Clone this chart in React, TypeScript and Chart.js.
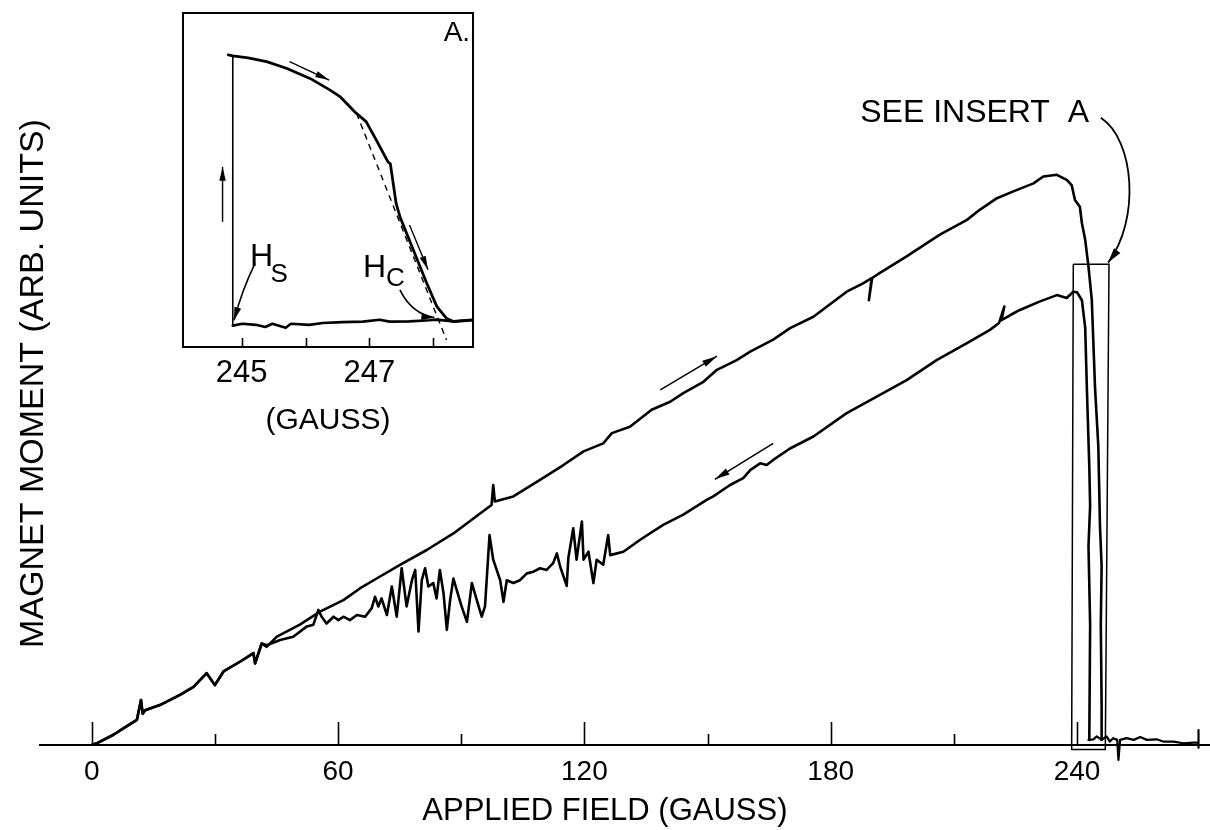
import React, { useEffect, useRef } from 'react';
import { Chart, registerables } from 'chart.js';

Chart.register(...registerables);

// ---------------- main chart data (field in gauss, moment in arbitrary units) ----------------
const fieldUp = [0, 1.2, 5.3, 7.7, 11.0, 12.0, 12.4, 13.0, 16.6, 21.5, 24.8, 28.0, 30.0, 32.1, 36.1, 39.4, 39.8, 41.4, 42.6, 45.1, 50.7, 55.6, 61.3, 65.4, 69.4, 75.1, 81.6, 88.1, 94.6, 97.4, 97.8, 98.2, 102.7, 109.2, 114.9, 119.8, 124.6, 126.7, 131.1, 136.4, 140.9, 144.1, 149.0, 152.3, 157.1, 160.4, 166.0, 170.1, 175.8, 183.9, 188.0, 190.0, 189.3, 190.1, 192.0, 198.5, 206.6, 213.2, 216.4, 220.5, 224.5, 229.4, 231.8, 235.1, 237.5, 238.7, 239.5, 240.7, 241.2, 242.0, 242.8, 243.6, 244.4, 245.2, 245.6, 246.0, 245.8, 246.0, 246.0];
const momentUp = [0, 0.3, 1.8, 2.9, 4.4, 7.9, 5.5, 6.1, 7.0, 8.8, 10.2, 12.6, 10.5, 12.9, 14.6, 16.1, 14.3, 17.8, 17.2, 19.0, 21.1, 23.4, 25.4, 27.5, 29.2, 31.6, 34.2, 37.1, 40.6, 42.1, 45.6, 42.7, 43.6, 46.5, 49.1, 51.5, 52.9, 54.7, 55.8, 58.8, 60.2, 61.7, 63.7, 65.8, 67.5, 69.0, 71.1, 73.1, 75.1, 79.5, 81.0, 81.9, 78.0, 81.9, 82.8, 85.7, 89.5, 92.1, 93.9, 95.9, 97.1, 98.5, 99.7, 100.0, 99.1, 98.2, 95.6, 94.4, 91.5, 88.6, 83.9, 78.1, 62.6, 52.3, 38.4, 31.4, 21.1, 7.2, 0.9];

const fieldDown = [0, 1.2, 5.3, 7.7, 11.0, 12.0, 12.4, 13.0, 16.6, 21.5, 24.8, 28.0, 30.0, 32.1, 36.1, 39.4, 39.8, 41.4, 42.6, 45.9, 49.1, 52.4, 54.0, 55.2, 56.0, 57.2, 58.9, 60.1, 61.3, 62.9, 64.6, 66.6, 68.2, 69.0, 69.8, 70.6, 71.9, 73.1, 74.3, 75.5, 76.7, 78.0, 78.8, 79.6, 80.4, 81.2, 82.0, 83.2, 84.0, 84.8, 85.7, 86.5, 87.3, 88.1, 88.9, 90.1, 91.4, 92.6, 93.8, 95.0, 95.8, 96.9, 97.8, 99.5, 100.3, 101.1, 102.7, 104.3, 106.0, 107.6, 109.2, 110.8, 112.4, 113.3, 114.1, 115.7, 116.1, 117.3, 118.1, 119.4, 119.8, 121.0, 122.2, 123.0, 124.6, 125.8, 126.3, 129.5, 133.6, 139.2, 144.1, 149.8, 151.4, 155.5, 158.7, 160.4, 162.8, 164.4, 166.0, 170.1, 175.8, 183.9, 192.0, 198.5, 205.8, 213.2, 218.8, 221.0, 222.3, 221.6, 224.0, 226.1, 231.0, 235.1, 237.5, 239.1, 240.0, 241.2, 242.0, 242.4, 243.0, 243.2, 242.8, 243.2, 243.0];
const momentDown = [0, 0.3, 1.8, 2.9, 4.4, 7.9, 5.5, 6.1, 7.0, 8.8, 10.2, 12.6, 10.5, 12.9, 14.6, 16.1, 14.3, 17.8, 17.5, 18.4, 19.0, 20.8, 21.1, 23.7, 22.5, 21.3, 22.5, 21.9, 22.5, 21.9, 22.8, 22.5, 24.0, 26.0, 24.3, 25.7, 22.8, 27.8, 22.5, 31.0, 24.3, 28.9, 30.7, 19.9, 28.9, 31.0, 27.8, 28.4, 25.7, 30.7, 26.6, 20.2, 25.4, 29.2, 27.2, 24.3, 21.6, 28.4, 25.4, 22.5, 24.3, 36.8, 32.5, 28.9, 25.1, 28.9, 28.4, 28.9, 30.1, 30.4, 31.0, 30.7, 31.9, 33.6, 31.3, 27.9, 32.8, 38.0, 32.5, 39.2, 32.5, 33.9, 28.4, 32.5, 31.6, 36.8, 33.3, 33.9, 36.0, 38.6, 40.4, 43.0, 43.6, 45.6, 46.8, 48.2, 49.4, 49.1, 50.0, 52.0, 54.1, 58.2, 61.4, 64.0, 67.5, 70.5, 72.8, 74.0, 76.9, 74.5, 75.5, 76.3, 77.8, 78.9, 78.4, 79.5, 79.4, 78.0, 73.2, 62.7, 48.8, 41.9, 34.9, 21.1, 0.9];

const fieldBase = [242.8, 244.0, 244.8, 246.0, 247.2, 248.0, 248.8, 249.8, 250.1, 250.5, 252.1, 253.8, 255.4, 257.0, 259.4, 261.0, 263.5, 265.9, 268.4, 269.6, 269.6, 269.6];
const momentBase = [0.9, 1.0, 1.5, 0.9, 1.5, 0.6, 1.2, 0.9, -2.6, 0.9, 1.2, 0.9, 1.4, 0.9, 1.0, 0.6, 0.6, 0.3, 0.4, 0.4, 2.6, -0.5];

const boxField = [239.1, 247.8, 246.9, 238.7, 239.1];
const boxMoment = [84.3, 84.3, -0.8, -0.8, 84.3];

const fieldTickValues = [0, 30, 60, 90, 120, 150, 180, 210, 240];
const fieldTickLabels = ['0', '', '60', '', '120', '', '180', '', '240'];

// ---------------- insert A data ----------------
const insField = [244.79, 244.86, 245.10, 245.39, 245.70, 246.07, 246.38, 246.54, 246.77, 246.95, 247.11, 247.29, 247.33, 247.42, 247.48, 247.69, 247.90, 248.06, 248.21, 248.32, 248.62];
const insMoment = [100.4, 100.0, 99.3, 97.9, 95.4, 91.6, 87.3, 84.8, 79.1, 75.4, 68.5, 60.4, 59.6, 44.8, 39.8, 27.3, 14.9, 6.1, 1.7, 0.5, 1.1];
const insBaseField = [244.86, 245.01, 245.22, 245.37, 245.48, 245.69, 245.77, 246.06, 246.27, 246.58, 246.90, 247.16, 247.32, 247.63, 247.94, 248.05, 248.32, 248.62];
const insBaseMoment = [-1.0, -0.3, -0.7, -1.5, -0.3, -1.8, -0.3, -0.7, 0.0, 0.3, 0.5, 1.2, 0.5, 0.6, 1.0, 1.25, 0.6, 1.2];
const insJumpField = [244.86, 244.86];
const insJumpMoment = [100.0, -1.0];
const insDashField = [246.80, 248.21];
const insDashMoment = [78.5, -6.4];
const insTickValues = [245, 246, 247, 248];
const insTickLabels = ['245', '', '247', ''];

const SANS = "'Liberation Sans', Arial, sans-serif";

const pts = (xs: number[], ys: number[]) => xs.map((x, i) => ({ x, y: ys[i] }));

function arrowHead(ctx: CanvasRenderingContext2D, fx: number, fy: number, tx: number, ty: number, len = 14, hw = 4) {
  const a = Math.atan2(ty - fy, tx - fx);
  const c = Math.cos(a), s = Math.sin(a);
  ctx.beginPath();
  ctx.moveTo(tx, ty);
  ctx.lineTo(tx - len * c + hw * s, ty - len * s - hw * c);
  ctx.lineTo(tx - len * c - hw * s, ty - len * s + hw * c);
  ctx.closePath();
  ctx.fill();
}

function arrow(ctx: CanvasRenderingContext2D, fx: number, fy: number, tx: number, ty: number, len = 14, hw = 4) {
  ctx.beginPath();
  ctx.moveTo(fx, fy);
  ctx.lineTo(tx, ty);
  ctx.stroke();
  arrowHead(ctx, fx, fy, tx, ty, len, hw);
}

const lineDs = (data: { x: number; y: number }[], width: number, extra: any = {}) => ({
  data,
  showLine: true,
  borderColor: '#000',
  backgroundColor: '#000',
  borderWidth: width,
  pointRadius: 0,
  pointHoverRadius: 0,
  tension: 0,
  borderJoinStyle: 'round',
  borderCapStyle: 'round',
  fill: false,
  ...extra,
});

const mainDecor = {
  id: 'mainDecor',
  afterDatasetsDraw(chart: any) {
    const { ctx, scales } = chart;
    const x = scales.x, y = scales.y;
    const px = (v: number) => x.getPixelForValue(v);
    const py = (v: number) => y.getPixelForValue(v);
    ctx.save();
    ctx.strokeStyle = '#000';
    ctx.fillStyle = '#000';
    ctx.lineCap = 'butt';
    // inward (upward) tick marks
    ctx.lineWidth = 1.6;
    const base = py(0);
    x.ticks.forEach((t: any, i: number) => {
      const len = fieldTickLabels[i] ? 23 : 11;
      const xx = Math.round(px(t.value)) + 0.5;
      ctx.beginPath();
      ctx.moveTo(xx, base);
      ctx.lineTo(xx, base - len);
      ctx.stroke();
    });
    // x-axis title (offset left of the scale centre, as in the original)
    ctx.font = `31px ${SANS}`;
    ctx.textAlign = 'center';
    ctx.textBaseline = 'middle';
    ctx.fillText('APPLIED FIELD (GAUSS)', px(125.0), x.bottom - 19);
    // direction arrows
    ctx.lineWidth = 1.5;
    arrow(ctx, px(138.5), py(62.3), px(152.3), py(68.2), 15, 3.5);
    arrow(ctx, px(166.0), py(52.9), px(151.8), py(46.6), 15, 3.5);
    // label and curved pointer
    ctx.font = `32px ${SANS}`;
    ctx.textAlign = 'left';
    ctx.textBaseline = 'middle';
    ctx.fillText('SEE INSERT  A', px(187.2), py(110.8));
    ctx.lineWidth = 1.8;
    const sx = px(245.8), sy = py(110.0);
    const c1x = px(254.1), c1y = py(106.1);
    const c2x = px(255.4), c2y = py(92.1);
    const ex = px(247.6), ey = py(84.6);
    ctx.beginPath();
    ctx.moveTo(sx, sy);
    ctx.bezierCurveTo(c1x, c1y, c2x, c2y, ex, ey);
    ctx.stroke();
    arrowHead(ctx, c2x, c2y, ex, ey, 15, 4);
    ctx.restore();
  },
};

const insertDecor = {
  id: 'insertDecor',
  afterDatasetsDraw(chart: any) {
    const { ctx, scales, chartArea } = chart;
    const x = scales.x, y = scales.y;
    const px = (v: number) => x.getPixelForValue(v);
    const py = (v: number) => y.getPixelForValue(v);
    ctx.save();
    ctx.strokeStyle = '#000';
    ctx.fillStyle = '#000';
    // frame
    ctx.lineWidth = 2;
    ctx.strokeRect(chartArea.left, chartArea.top, chartArea.right - chartArea.left, chartArea.bottom - chartArea.top);
    // ticks (inward)
    ctx.lineWidth = 1.6;
    x.ticks.forEach((t: any) => {
      const xx = Math.round(px(t.value)) + 0.5;
      ctx.beginPath();
      ctx.moveTo(xx, chartArea.bottom);
      ctx.lineTo(xx, chartArea.bottom - 9);
      ctx.stroke();
    });
    // arrows
    ctx.lineWidth = 1.4;
    arrow(ctx, px(244.70), py(37.9), px(244.70), py(58.5), 14, 3.2);
    arrow(ctx, px(245.75), py(97.9), px(246.37), py(91.0), 14, 3.2);
    arrow(ctx, px(247.63), py(36.7), px(247.92), py(19.9), 14, 3.2);
    // H_S pointer
    ctx.lineWidth = 1.6;
    ctx.beginPath();
    ctx.moveTo(px(245.21), py(22.4));
    ctx.quadraticCurveTo(px(245.00), py(12.0), px(244.88), py(1.0));
    ctx.stroke();
    arrowHead(ctx, px(244.98), py(9.0), px(244.88), py(1.0), 13, 3.5);
    // H_C pointer
    ctx.beginPath();
    ctx.moveTo(px(247.48), py(12.4));
    ctx.quadraticCurveTo(px(247.66), py(3.5), px(248.02), py(2.0));
    ctx.stroke();
    arrowHead(ctx, px(247.80), py(2.6), px(248.02), py(2.0), 13, 3.5);
    // labels
    ctx.textAlign = 'left';
    ctx.textBaseline = 'middle';
    ctx.font = `32px ${SANS}`;
    ctx.fillText('H', px(245.13), py(24.5));
    ctx.fillText('H', px(246.90), py(20.4));
    ctx.font = `26px ${SANS}`;
    ctx.fillText('S', px(245.45), py(18.2));
    ctx.fillText('C', px(247.26), py(16.6));
    ctx.font = `28px ${SANS}`;
    ctx.textAlign = 'right';
    ctx.fillText('A.', px(248.58), py(108.4));
    ctx.restore();
  },
};

export default function App() {
  const mainRef = useRef<HTMLCanvasElement | null>(null);
  const insRef = useRef<HTMLCanvasElement | null>(null);

  useEffect(() => {
    if (!mainRef.current || !insRef.current) return;
    const main = new Chart(mainRef.current, {
      type: 'scatter',
      data: {
        datasets: [
          lineDs(pts(fieldUp, momentUp), 2.6),
          lineDs(pts(fieldDown, momentDown), 2.6),
          lineDs(pts(fieldBase, momentBase), 2.2, { clip: false }),
          lineDs(pts(boxField, boxMoment), 1.5, { clip: false, borderJoinStyle: 'miter', borderCapStyle: 'butt' }),
        ] as any,
      },
      options: {
        responsive: false,
        animation: false,
        events: [],
        layout: { padding: { top: 22, right: 0, bottom: 0, left: 0 } },
        plugins: { legend: { display: false }, tooltip: { enabled: false } },
        scales: {
          x: {
            type: 'linear',
            min: -12.6,
            max: 272.4,
            afterBuildTicks: (scale: any) => {
              scale.ticks = fieldTickValues.map((v) => ({ value: v }));
            },
            afterFit: (scale: any) => {
              scale.height = 85;
            },
            ticks: {
              autoSkip: false,
              maxRotation: 0,
              padding: 10,
              color: '#000',
              font: { family: SANS, size: 28 },
              callback: (_v: any, i: number) => fieldTickLabels[i],
            },
            grid: { display: false, drawTicks: false },
            border: { display: true, color: '#000', width: 2 },
            title: { display: false },
          },
          y: {
            type: 'linear',
            min: 0,
            max: 126.8,
            afterFit: (scale: any) => {
              scale.width = 40;
            },
            ticks: { display: false },
            grid: { display: false, drawTicks: false },
            border: { display: false },
            title: {
              display: true,
              text: 'MAGNET MOMENT (ARB. UNITS)',
              color: '#000',
              font: { family: SANS, size: 34 },
              padding: { top: 13, bottom: 0 },
            },
          },
        },
      } as any,
      plugins: [mainDecor],
    });

    const ins = new Chart(insRef.current, {
      type: 'scatter',
      data: {
        datasets: [
          lineDs(pts(insField, insMoment), 2.8),
          lineDs(pts(insBaseField, insBaseMoment), 2.6),
          lineDs(pts(insJumpField, insJumpMoment), 1.6),
          lineDs(pts(insDashField, insDashMoment), 1.4, { borderDash: [6, 5], borderCapStyle: 'butt' }),
        ] as any,
      },
      options: {
        responsive: false,
        animation: false,
        events: [],
        layout: { padding: { top: 13, right: 17, bottom: 0, left: 0 } },
        plugins: { legend: { display: false }, tooltip: { enabled: false } },
        scales: {
          x: {
            type: 'linear',
            min: 244.08,
            max: 248.625,
            afterBuildTicks: (scale: any) => {
              scale.ticks = insTickValues.map((v) => ({ value: v }));
            },
            afterFit: (scale: any) => {
              scale.height = 98;
            },
            ticks: {
              autoSkip: false,
              maxRotation: 0,
              padding: 8,
              color: '#000',
              font: { family: SANS, size: 31 },
              callback: (_v: any, i: number) => insTickLabels[i],
            },
            grid: { display: false, drawTicks: false },
            border: { display: false },
            title: {
              display: true,
              text: '(GAUSS)',
              color: '#000',
              font: { family: SANS, size: 30 },
              padding: { top: 0, bottom: 6 },
            },
          },
          y: {
            type: 'linear',
            min: -9,
            max: 116.1,
            afterFit: (scale: any) => {
              scale.width = 13;
            },
            ticks: { display: false },
            grid: { display: false, drawTicks: false },
            border: { display: false },
          },
        },
      } as any,
      plugins: [insertDecor],
    });

    return () => {
      main.destroy();
      ins.destroy();
    };
  }, []);

  return (
    <div style={{ position: 'absolute', left: 0, top: 0, width: 1210, height: 830, background: '#fff' }}>
      <canvas ref={mainRef} width={1210} height={830} style={{ position: 'absolute', left: 0, top: 0 }} />
      <canvas ref={insRef} width={320} height={445} style={{ position: 'absolute', left: 170, top: 0 }} />
    </div>
  );
}
